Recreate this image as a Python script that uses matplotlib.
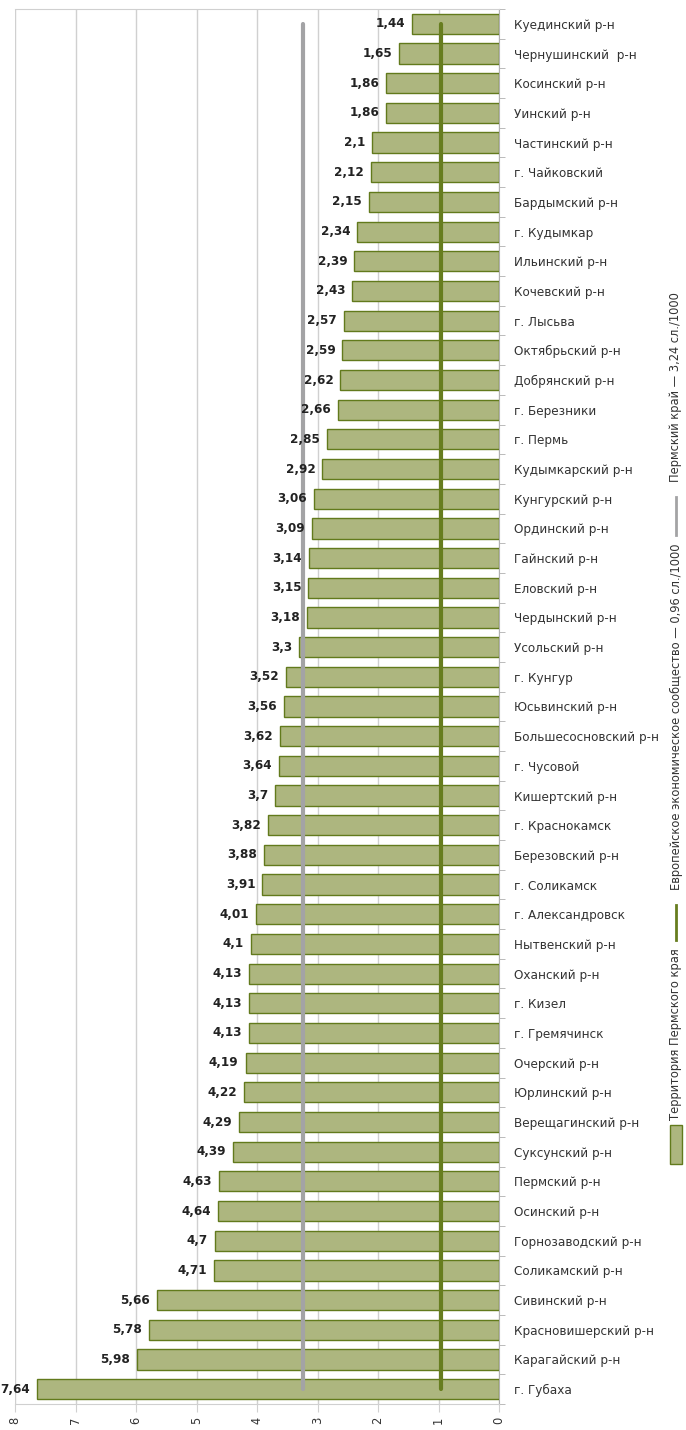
import matplotlib
matplotlib.use("Agg")
import matplotlib.pyplot as plt
from matplotlib.patches import Rectangle
from matplotlib.lines import Line2D
from matplotlib import font_manager

regions = [
    "Куединский р-н", "Чернушинский  р-н", "Косинский р-н", "Уинский р-н",
    "Частинский р-н", "г. Чайковский", "Бардымский р-н", "г. Кудымкар",
    "Ильинский р-н", "Кочевский р-н", "г. Лысьва", "Октябрьский р-н",
    "Добрянский р-н", "г. Березники", "г. Пермь", "Кудымкарский р-н",
    "Кунгурский р-н", "Ординский р-н", "Гайнский р-н", "Еловский р-н",
    "Чердынский р-н", "Усольский р-н", "г. Кунгур", "Юсьвинский р-н",
    "Большесосновский р-н", "г. Чусовой", "Кишертский р-н", "г. Краснокамск",
    "Березовский р-н", "г. Соликамск", "г. Александровск", "Нытвенский р-н",
    "Оханский р-н", "г. Кизел", "г. Гремячинск", "Очерский р-н",
    "Юрлинский р-н", "Верещагинский р-н", "Суксунский р-н", "Пермский р-н",
    "Осинский р-н", "Горнозаводский р-н", "Соликамский р-н", "Сивинский р-н",
    "Красновишерский р-н", "Карагайский р-н", "г. Губаха",
]
rates = [
    1.44, 1.65, 1.86, 1.86, 2.1, 2.12, 2.15, 2.34, 2.39, 2.43, 2.57, 2.59,
    2.62, 2.66, 2.85, 2.92, 3.06, 3.09, 3.14, 3.15, 3.18, 3.3, 3.52, 3.56,
    3.62, 3.64, 3.7, 3.82, 3.88, 3.91, 4.01, 4.1, 4.13, 4.13, 4.13, 4.19,
    4.22, 4.29, 4.39, 4.63, 4.64, 4.7, 4.71, 5.66, 5.78, 5.98, 7.64,
]
eec_rate = 0.96
perm_rate = 3.24
x_ticks = [0, 1, 2, 3, 4, 5, 6, 7, 8]

legend_bars = "Территория Пермского края"
legend_eec = "Европейское экономическое сообщество — 0,96 сл./1000"
legend_perm = "Пермский край — 3,24 сл./1000"

# prefer a condensed face if one is installed
fonts = font_manager.fontManager.ttflist
has_condensed = any(f.name == "DejaVu Sans" and f.stretch == "condensed" for f in fonts)
if has_condensed:
    plt.rcParams["font.family"] = ["DejaVu Sans"]
    plt.rcParams["font.stretch"] = "condensed"
    scale = 0.92
else:
    plt.rcParams["font.family"] = ["Liberation Sans", "DejaVu Sans"]
    scale = 0.88

BAR_FACE = "#adb67f"
BAR_EDGE = "#627a1c"
EEC_COLOR = "#677d1f"
PERM_COLOR = "#a3a3a5"
GRID = "#d0d0d0"

W, H = 686, 1430
fig = plt.figure(figsize=(W / 100, H / 100), dpi=100)
ax = fig.add_axes([15 / W, 26 / H, (499 - 15) / W, (1404 - 9) / H])

n = len(regions)
pos = list(range(n))
ax.barh(pos, rates, height=0.68, color=BAR_FACE, edgecolor=BAR_EDGE,
        linewidth=1.0, zorder=3)

ax.plot([perm_rate, perm_rate], [0, n - 1], color=PERM_COLOR, lw=3.0,
        solid_capstyle="round", zorder=4)
ax.plot([eec_rate, eec_rate], [0, n - 1], color=EEC_COLOR, lw=3.0,
        solid_capstyle="round", zorder=4)

for p, v in zip(pos, rates):
    label = f"{v:g}".replace(".", ",")
    ax.annotate(label, (v, p), xytext=(-5, 0), textcoords="offset points",
                ha="right", va="center", fontsize=10.5 * scale, fontweight="bold",
                color="#222222", zorder=5)

ax.set_xlim(8, 0)
ax.set_ylim(n - 0.5, -0.5)
ax.set_xticks(x_ticks)
ax.set_xticklabels([str(t) for t in x_ticks], rotation=90, fontsize=10 * scale,
                   color="#333333")
ax.tick_params(axis="x", length=6, color=GRID, pad=3)
ax.xaxis.grid(True, color=GRID, lw=1.0, zorder=0)

ax.yaxis.tick_right()
ax.set_yticks(pos)
ax.set_yticklabels(regions, fontsize=10.5 * scale, color="#333333")
ax.tick_params(axis="y", which="major", length=0, pad=11)
ax.set_yticks([p + 0.5 for p in range(-1, n)], minor=True)
ax.tick_params(axis="y", which="minor", length=4, color="#b0b0b0", right=True, left=False)

for side in ("top", "bottom"):
    ax.spines[side].set_color(GRID)
ax.spines["left"].set_visible(False)
ax.spines["right"].set_color("#b0b0b0")

# vertical legend along the right edge
lx = 676 / W
fs_leg = 10.0 * scale
fig.patches.append(Rectangle((670 / W, 1 - 1164 / H), 12 / W, 39 / H,
                             transform=fig.transFigure, facecolor=BAR_FACE,
                             edgecolor=BAR_EDGE, lw=1.0))
fig.text(lx, 1 - 1120 / H, legend_bars, rotation=90, ha="center", va="bottom",
         fontsize=fs_leg, color="#333333")
fig.lines.append(Line2D([lx, lx], [1 - 940 / H, 1 - 905 / H],
                        transform=fig.transFigure, color=EEC_COLOR, lw=2.0))
fig.text(lx, 1 - 890 / H, legend_eec, rotation=90, ha="center", va="bottom",
         fontsize=fs_leg, color="#333333")
fig.lines.append(Line2D([lx, lx], [1 - 535 / H, 1 - 497 / H],
                        transform=fig.transFigure, color=PERM_COLOR, lw=2.0))
fig.text(lx, 1 - 482 / H, legend_perm, rotation=90, ha="center", va="bottom",
         fontsize=fs_leg, color="#333333")

fig.savefig("out.png", dpi=100, facecolor="white")
